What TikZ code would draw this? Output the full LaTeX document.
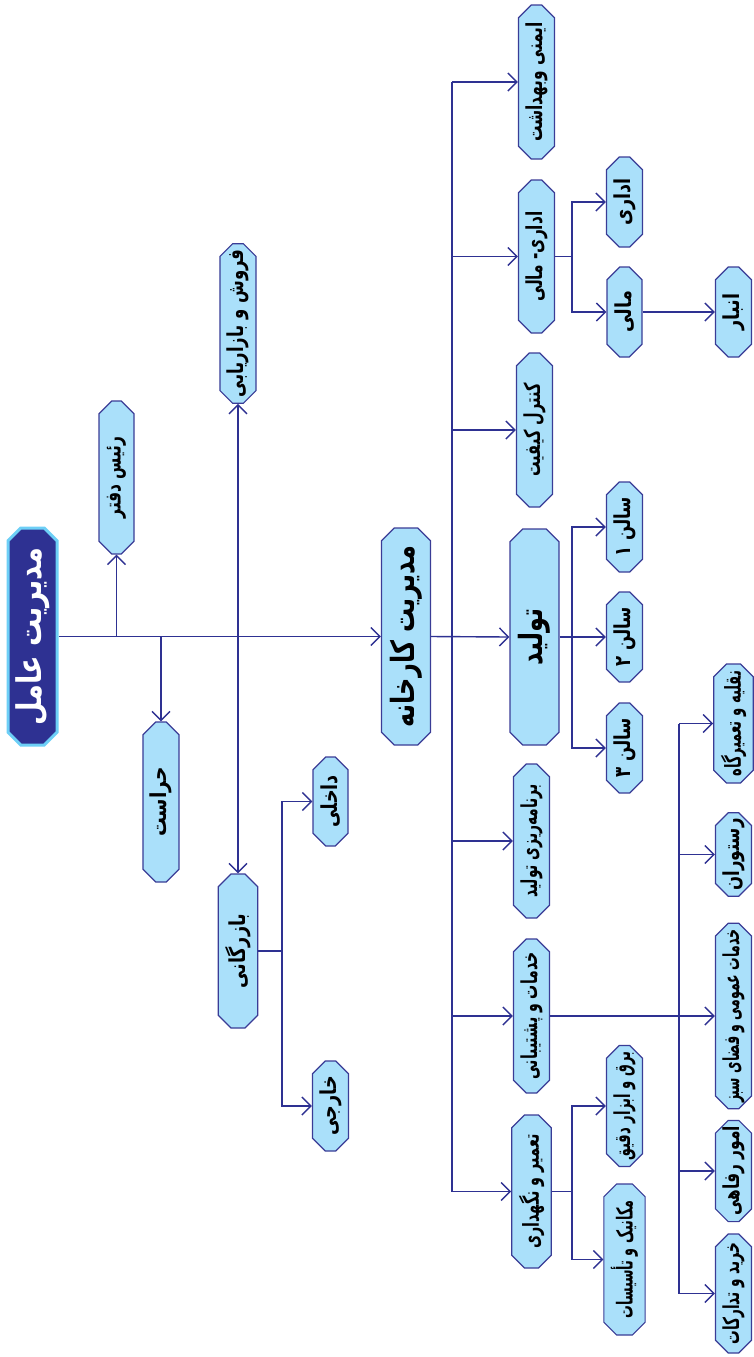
\documentclass[tikz,border=0pt]{standalone}
\usepackage{fontspec}
\usepackage{graphicx}
\usetikzlibrary{shapes.misc,arrows.meta}
\TeXXeTstate=1
\newfontfamily\farsi[Script=Arabic]{DejaVu Sans}
\definecolor{boxfill}{RGB}{170,224,250}
\definecolor{boxline}{RGB}{58,60,150}
\definecolor{linkc}{RGB}{46,49,146}
\definecolor{rootrim}{RGB}{109,207,246}
\newcommand{\fa}[2][0.66]{\rotatebox{90}{\scalebox{#1}[1]{\farsi\bfseries\beginR #2\endR}}}
\begin{document}
\begin{tikzpicture}[x=0.5pt, y=-0.5pt, >={Straight Barb[length=4.5pt,width=9pt]},
    orgbox/.style={chamfered rectangle, chamfered rectangle xsep=3.5pt, draw=boxline, fill=boxfill,
      line width=0.6pt, inner sep=0pt, minimum width=17.5pt, font=\fontsize{11}{13}\selectfont},
    rootbox/.style={orgbox, fill=linkc, draw=rootrim, line width=1.5pt, text=white,
      minimum width=24.5pt, font=\fontsize{17}{20}\selectfont},
    bigbox/.style={orgbox, minimum width=24.5pt, font=\fontsize{16}{19}\selectfont},
    link/.style={draw=linkc, line width=0.7pt},
    arr/.style={link, ->}]
  \useasboundingbox (0,0) rectangle (754,1357);
  % left part
  \node[rootbox, minimum height=108.5pt] (amel) at (32.5,636.5) {\fa[0.8]{مدیریت عامل}};
  \node[orgbox, minimum height=76.5pt] (rais) at (116.5,477.5) {\fa[0.7]{رئیس دفتر}};
  \node[orgbox, minimum height=80pt] (herasat) at (161,802) {\fa[0.85]{حراست}};
  \node[orgbox, minimum height=77.5pt] (forush) at (238,323.5) {\fa[0.75]{فروش و بازاریابی}};
  \node[orgbox, minimum height=77pt] (bazargani) at (238,951) {\fa[0.8]{بازرگانی}};
  \node[orgbox, minimum height=44.5pt] (dakheli) at (330.5,801.5) {\fa[0.8]{داخلی}};
  \node[orgbox, minimum height=45pt] (khareji) at (330.5,1106) {\fa[0.8]{خارجی}};
  \node[bigbox, minimum height=108.5pt] (karkhane) at (406,636.5) {\fa[0.75]{مدیریت کارخانه}};
  % second column
  \node[orgbox, minimum height=77pt] (imeni) at (536.5,82) {\fa[0.7]{ایمنی وبهداشت}};
  \node[orgbox, minimum height=76.5pt] (edarimali) at (536.5,256.5) {\fa[0.7]{اداری- مالی}};
  \node[orgbox, minimum height=77pt] (kontrol) at (534.5,430) {\fa{کنترل کیفیت}};
  \node[bigbox, minimum height=108pt] (tolid) at (534.5,637) {\fa[0.75]{تولید}};
  \node[orgbox, minimum height=77pt] (barname) at (531.5,841) {\fa[0.63]{برنامه‌ریزی تولید}};
  \node[orgbox, minimum height=77pt] (khadamat) at (531.5,1016) {\fa[0.64]{خدمات و پشتیبانی}};
  \node[orgbox, minimum height=76.5pt] (tamir) at (531.5,1191.5) {\fa[0.65]{تعمیر و نگهداری}};
  % third column
  \node[orgbox, minimum height=45pt] (edari) at (624.5,202) {\fa[0.8]{اداری}};
  \node[orgbox, minimum height=45pt] (mali) at (624.5,312) {\fa[0.8]{مالی}};
  \node[orgbox, minimum height=45pt] (salon1) at (624.5,527) {\fa[0.75]{سالن ۱}};
  \node[orgbox, minimum height=45pt] (salon2) at (624.5,637) {\fa[0.75]{سالن ۲}};
  \node[orgbox, minimum height=45pt] (salon3) at (624.5,748) {\fa[0.75]{سالن ۳}};
  \node[orgbox, minimum height=60pt] (barq) at (624.5,1106) {\fa[0.6]{برق و ابزار دقیق}};
  \node[orgbox, minimum height=75.5pt] (mekanik) at (624.5,1259.5) {\fa[0.58]{مکانیک و تأسیسات}};
  % fourth column
  \node[orgbox, minimum height=45pt] (anbar) at (733.5,312) {\fa[0.8]{انبار}};
  \node[orgbox, minimum height=59.5pt] (naghlie) at (733.5,723.5) {\fa[0.6]{نقلیه و تعمیرگاه}};
  \node[orgbox, minimum height=41.5pt] (restoran) at (733.5,854.5) {\fa[0.75]{رستوران}};
  \node[orgbox, minimum height=92pt] (omumi) at (733.5,1016) {\fa[0.57]{خدمات عمومی و فضای سبز}};
  \node[orgbox, minimum height=42pt] (refahi) at (733.5,1171) {\fa[0.7]{امور رفاهی}};
  \node[orgbox, minimum height=59.5pt] (kharid) at (733.5,1293.5) {\fa[0.62]{خرید و تدارکات}};
  % connectors
  \draw[arr] (amel.east) -- (karkhane.west);
  \draw[arr] (amel.east -| rais.south) -- (rais.south);
  \draw[arr] (amel.east -| herasat.north) -- (herasat.north);
  \draw[link, <->] (forush.south) -- (bazargani.north);
  \coordinate (bzhub) at (282,951);
  \draw[link] (bazargani.east) -- (bzhub);
  \draw[arr] (bzhub) |- (dakheli.west);
  \draw[arr] (bzhub) |- (khareji.west);
  \coordinate (bus) at (452,637);
  \draw[arr] (karkhane.east) -- (tolid.west);
  \draw[link] (bus |- imeni.west) -- (bus |- tamir.west);
  \foreach \n in {imeni,edarimali,kontrol,barname,khadamat,tamir}
    \draw[arr] (bus |- \n.west) -- (\n.west);
  \coordinate (ehub) at (572,256.5);
  \draw[link] (edarimali.east) -- (ehub);
  \draw[arr] (ehub) |- (edari.west);
  \draw[arr] (ehub) |- (mali.west);
  \draw[arr] (mali.east) -- (anbar.west);
  \coordinate (thub) at (572,637);
  \draw[link] (tolid.east) -- (thub);
  \foreach \n in {salon1,salon2,salon3}
    \draw[arr] (thub) |- (\n.west);
  \coordinate (rhub) at (572,1191.5);
  \draw[link] (tamir.east) -- (rhub);
  \draw[arr] (rhub) |- (barq.west);
  \draw[arr] (rhub) |- (mekanik.west);
  \coordinate (khub) at (679,1016);
  \draw[arr] (khadamat.east) -- (omumi.west);
  \draw[link] (khub |- naghlie.west) -- (khub |- kharid.west);
  \foreach \n in {naghlie,restoran,refahi,kharid}
    \draw[arr] (khub |- \n.west) -- (\n.west);
\end{tikzpicture}
\end{document}
